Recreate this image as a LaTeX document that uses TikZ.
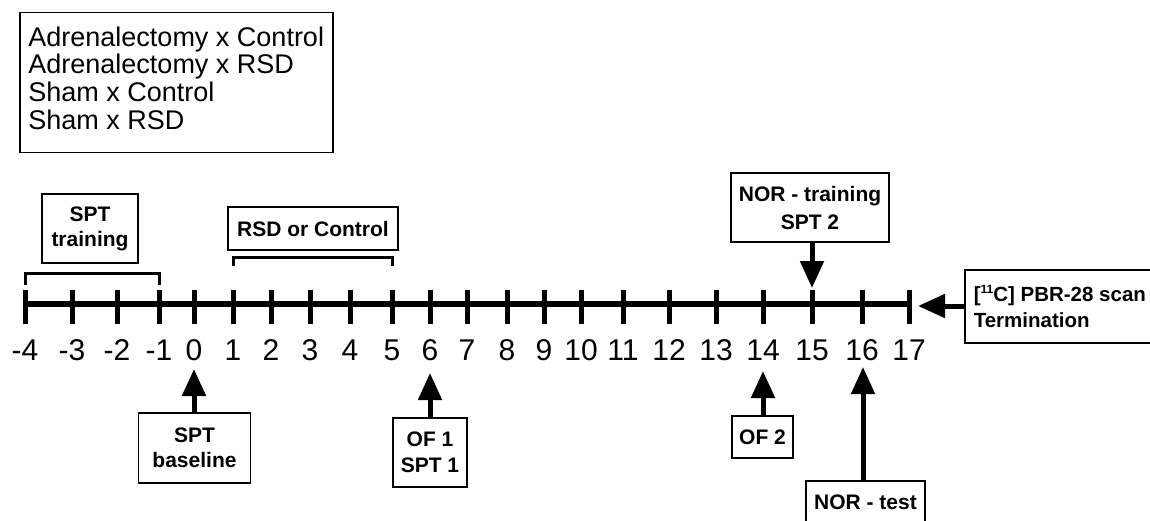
\documentclass[tikz,border=0pt]{standalone}
\usepackage{fontspec}
\setmainfont{Liberation Sans}
\usetikzlibrary{arrows.meta}

\begin{document}
\begin{tikzpicture}[x=1pt,y=-1pt,
  frame/.style={draw, line width=1.5pt, inner sep=0pt},
  stepbox/.style={draw, line width=1.6pt, inner sep=0pt, align=center,
    font=\fontsize{21}{26}\selectfont\bfseries},
  daylabel/.style={anchor=base, inner sep=0pt, font=\fontsize{30}{30}\selectfont},
  axisline/.style={line width=5.5pt},
  tickmark/.style={line width=5pt},
  bracket/.style={line width=3pt},
  arr/.style={line width=5pt, -{Triangle[width=23pt,length=27pt]}}]

\path[use as bounding box] (0,0) rectangle (1150,521);
\clip (0,0) rectangle (1150,521);

% experimental groups
\node[frame, anchor=north west, minimum width=313pt, minimum height=140pt] (legend) at (19,12) {};
\node[align=left, inner sep=0pt, font=\fontsize{27}{27.8}\selectfont] (legendtext)
  at ([yshift=4.5pt]legend.center)
  {Adrenalectomy x Control\\Adrenalectomy x RSD\\Sham x Control\\Sham x RSD};

% time axis (days)
\foreach \d/\x in {-4/25,-3/72,-2/117,-1/159,0/194,1/233,2/271,3/310,4/350,5/392,
                   6/430,7/467,8/507,9/544,10/581,11/623,12/669,13/716,14/763,
                   15/812,16/862,17/909}{
  \coordinate (t\d) at (\x,304);
  \node[daylabel] (l\d) at (\x,360) {\d};
}
\draw[axisline] (t-4) -- (t17);
\foreach \d in {-4,-3,...,17}{
  \draw[tickmark] ([yshift=14pt]t\d) -- ([yshift=-20pt]t\d);
}

% periods above the axis
\node[stepbox, minimum width=96pt, minimum height=69pt, font=\fontsize{21}{25}\selectfont\bfseries]
  (sptt) at (90,228.5) {SPT\\training};
\draw[bracket] ([yshift=19pt]t-4) -- ([yshift=31pt]t-4) -- ([yshift=31pt]t-1) -- ([yshift=19pt]t-1);

\node[stepbox, minimum width=170pt, minimum height=43pt] (rsd) at (313,228.5) {RSD or Control};
\draw[bracket] ([yshift=38pt]t1) -- ([yshift=47pt]t1) -- ([yshift=47pt]t5) -- ([yshift=38pt]t5);

% single-day events
\coordinate (a0) at (194,369);
\coordinate (a6) at (430,373);
\coordinate (a14) at (763,371);
\coordinate (a15) at (812,288);
\coordinate (a16) at (863,367);
\coordinate (a17) at (918,306);

\node[stepbox, minimum width=158pt, minimum height=69pt, font=\fontsize{21}{28}\selectfont\bfseries]
  (nortr) at (810,207.5) {NOR - training\\SPT 2};
\draw[arr] (nortr.south -| a15) -- (a15);

\node[stepbox, anchor=west, inner xsep=9pt, minimum height=73pt, align=left,
  font=\fontsize{20.5}{26}\selectfont\bfseries]
  (scan) at (964,306.5)
  {[{\fontsize{12}{12}\selectfont\raisebox{7.5pt}{11}}C] PBR-28 scan\\Termination};
\draw[arr] (scan.west |- a17) -- (a17);

\node[stepbox, minimum width=112pt, minimum height=70pt, font=\fontsize{21}{25}\selectfont\bfseries]
  (sptb) at (194.5,448) {SPT\\baseline};
\draw[arr] (sptb.north -| a0) -- (a0);

\node[stepbox, minimum width=74pt, minimum height=69pt] (of1) at (430,452.5) {OF 1\\SPT 1};
\draw[arr] (of1.north -| a6) -- (a6);

\node[stepbox, minimum width=61pt, minimum height=42pt] (of2) at (762.5,437) {OF 2};
\draw[arr] (of2.north -| a14) -- (a14);

\node[stepbox, minimum width=119pt, minimum height=43pt] (nort) at (865.5,502.5) {NOR - test};
\draw[arr] (nort.north -| a16) -- (a16);

\end{tikzpicture}
\end{document}
